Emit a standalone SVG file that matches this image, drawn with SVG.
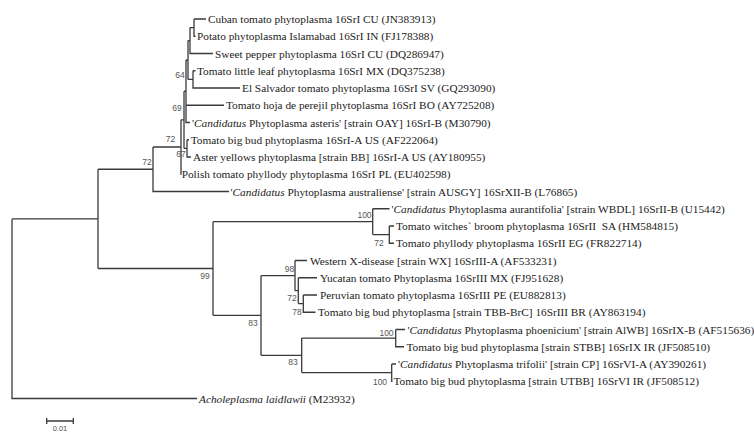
<svg xmlns="http://www.w3.org/2000/svg" width="754" height="432" viewBox="0 0 754 432">
<style>
.br{stroke:#3a3a3a;stroke-width:1.3;fill:none}
.lf{font-family:"Liberation Serif","Times New Roman",serif;font-size:11.3px;fill:#222}
.it{font-style:italic}
.bs{font-family:"Liberation Sans",Arial,sans-serif;font-size:8.5px;fill:#555;text-anchor:middle}
</style>
<rect width="754" height="432" fill="#fff"/>
<g id="connectors" class="br">
<path d="M12,218.9V398.5H197M12,218.9H98"/>
<path d="M98,169.25V268.5M98,169.25H153M98,268.5H213"/>
<path d="M153,147V191.5H229M153,147H181"/>
<path d="M181,119.8V174.25H181.5M181,119.8H184M184,91.25V148.4"/>
<path d="M184,91.25H186M186,60V122.5H190M186,105.25H224"/>
<path d="M186,60H188M188,40.6V79.4"/>
<path d="M188,40.6H190M190,27.6V53.5H213M190,27.6H194M194,19V36.25H195.5M194,19H206"/>
<path d="M188,79.4H193M193,70.75V88H240M193,70.75H195.5"/>
<path d="M184,148.4H187M187,139.75V157H191M187,139.75H189"/>
<path d="M213,221.7V315.3M213,221.7H372.7M372.7,208.75V234.6M372.7,208.75H389.5M372.7,234.6H389.3M389.3,226V243.25H394M389.3,226H394"/>
<path d="M213,315.3H261M261,275.6V355.35M261,275.6H295M295,260.5V290.7M295,260.5H307M295,290.7H298.3M298.3,277.75V303.6M298.3,277.75H317M298.3,303.6H303.3M303.3,295V312.25H315.5M303.3,295H317"/>
<path d="M261,355.35H301.7M301.7,338.1V372.6M301.7,338.1H395.7M395.7,329.5V346.75H404M395.7,329.5H405M301.7,372.6H391.7M391.7,364V381.25H392.5M391.7,364H396"/>
<path d="M46.7,421H73.3M46.7,418V424M73.3,418V424"/>
</g>
<g id="leaves" class="lf">
<g id="n1"><text x="208" y="23">Cuban tomato phytoplasma 16SrI CU (JN383913)</text></g>
<g id="n2"><text x="197" y="40.25">Potato phytoplasma Islamabad 16SrI IN (FJ178388)</text></g>
<g id="n3"><text x="215" y="57.5">Sweet pepper phytoplasma 16SrI CU (DQ286947)</text></g>
<g id="n4"><text x="197" y="74.75">Tomato little leaf phytoplasma 16SrI MX (DQ375238)</text></g>
<g id="n5"><text x="242" y="92">El Salvador tomato phytoplasma 16SrI SV (GQ293090)</text></g>
<g id="n6"><text x="226" y="109.25">Tomato hoja de perejil phytoplasma 16SrI BO (AY725208)</text></g>
<g id="n7"><text x="192" y="126.5">'<tspan class="it">Candidatus</tspan> Phytoplasma asteris' [strain OAY] 16SrI-B (M30790)</text></g>
<g id="n8"><text x="190.7" y="143.75">Tomato big bud phytoplasma 16SrI-A US (AF222064)</text></g>
<g id="n9"><text x="193" y="161">Aster yellows phytoplasma [strain BB] 16SrI-A US (AY180955)</text></g>
<g id="n10"><text x="181.7" y="178.25">Polish tomato phyllody phytoplasma 16SrI PL (EU402598)</text></g>
<g id="n11"><text x="230.5" y="195.5">'<tspan class="it">Candidatus</tspan> Phytoplasma australiense' [strain AUSGY] 16SrXII-B (L76865)</text></g>
<g id="n12"><text x="391.5" y="212.75">'<tspan class="it">Candidatus</tspan> Phytoplasma aurantifolia' [strain WBDL] 16SrII-B (U15442)</text></g>
<g id="n13"><text x="396" y="230">Tomato witches` broom phytoplasma 16SrII&#160; SA (HM584815)</text></g>
<g id="n14"><text x="396" y="247.25">Tomato phyllody phytoplasma 16SrII EG (FR822714)</text></g>
<g id="n15"><text x="310" y="264.5">Western X-disease [strain WX] 16SrIII-A (AF533231)</text></g>
<g id="n16"><text x="320" y="281.75">Yucatan tomato Phytoplasma 16SrIII MX (FJ951628)</text></g>
<g id="n17"><text x="320" y="299">Peruvian tomato phytoplasma 16SrIII PE (EU882813)</text></g>
<g id="n18"><text x="318" y="316.25">Tomato big bud phytoplasma [strain TBB-BrC] 16SrIII BR (AY863194)</text></g>
<g id="n19"><text x="407.5" y="333.5">'<tspan class="it">Candidatus</tspan> Phytoplasma phoenicium' [strain AlWB] 16SrIX-B (AF515636)</text></g>
<g id="n20"><text x="406.5" y="350.75">Tomato big bud phytoplasma [strain STBB] 16SrIX IR (JF508510)</text></g>
<g id="n21"><text x="398" y="368">'<tspan class="it">Candidatus</tspan> Phytoplasma trifolii' [strain CP] 16SrVI-A (AY390261)</text></g>
<g id="n22"><text x="393.5" y="385.25">Tomato big bud phytoplasma [strain UTBB] 16SrVI IR (JF508512)</text></g>
<g id="n23"><text x="199" y="402.5"><tspan class="it">Acholeplasma laidlawii</tspan> (M23932)</text></g>
</g>
<g id="bootstrap" class="bs">
<text x="180" y="78">64</text>
<text x="177" y="111">69</text>
<text x="170.5" y="142">72</text>
<text x="181" y="157">67</text>
<text x="147" y="165">72</text>
<text x="205" y="279">99</text>
<text x="364.5" y="218">100</text>
<text x="379" y="246">72</text>
<text x="289.5" y="271.5">98</text>
<text x="292" y="300.5">72</text>
<text x="297" y="314.5">78</text>
<text x="253" y="326">83</text>
<text x="293" y="364.5">83</text>
<text x="386.5" y="336">100</text>
<text x="380" y="384.5">100</text>
</g>
<g id="scale"><text class="bs" x="60" y="430.5" style="font-size:7.5px">0.01</text></g>
</svg>
